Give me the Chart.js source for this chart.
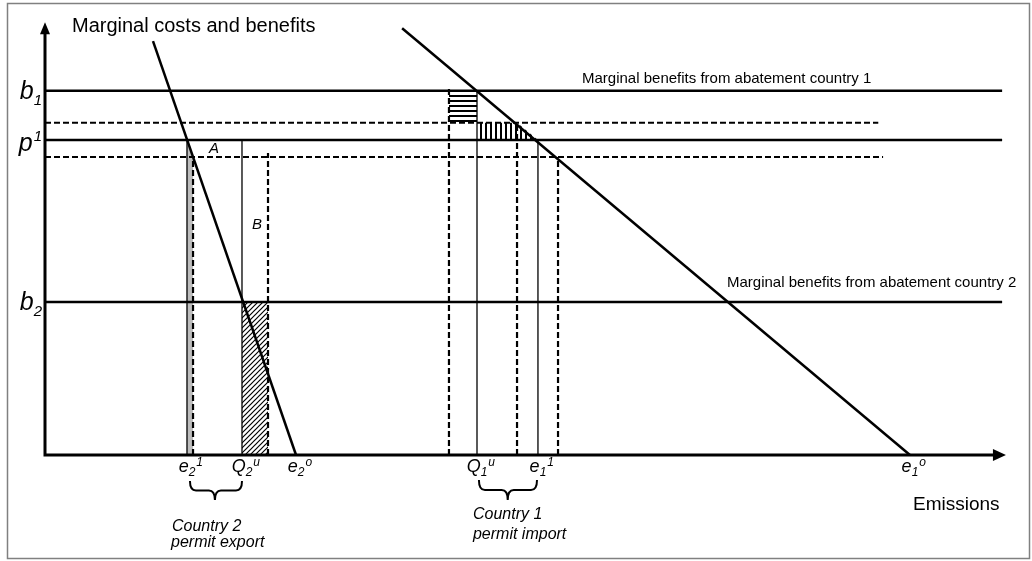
<!DOCTYPE html>
<html>
<head>
<meta charset="utf-8">
<script src="https://cdn.jsdelivr.net/npm/chart.js@4/dist/chart.umd.min.js"></script>
<style>
body { margin: 0; background: #fff; }
canvas { display: block; }
</style>
</head>
<body>
<canvas id="chart" width="1032" height="561"></canvas>
<script>
// price levels on the vertical axis (b1, p1, b2) and the two dashed permit prices
var priceLevels = [84.3, 72.9, 35.4];
var priceLabels = [['b', '1', ''], ['p', '', '1'], ['b', '2', '']];
var dashedPrices = [76.9, 69.0];
var dashedEnds = [86.8, 87.3];
var lineEnd = 99.7;

// marginal abatement cost curves
var mac2 = [{x: 11.25, y: 95.8}, {x: 26.15, y: 0}];
var mac1 = [{x: 37.2, y: 98.8}, {x: 90.1, y: 0}];

// emission marks on the horizontal axis
var emissionLevels = [14.79, 20.52, 26.15, 45.0, 51.35, 90.1];
var emissionLabels = [['e', '2', '1'], ['Q', '2', 'u'], ['e', '2', 'o'], ['Q', '1', 'u'], ['e', '1', '1'], ['e', '1', 'o']];

// drop lines [x, top]
var solidDrops = [[14.79, 72.9], [20.52, 72.9], [45.0, 84.3], [51.35, 72.9]];
var dashedDrops = [[15.42, 69.0], [23.23, 69.9], [42.08, 85.2], [49.17, 76.9], [53.44, 69.0]];

// shaded areas
var grayArea = [{x: 14.79, y: 72.9}, {x: 15.42, y: 69.0}];
var exportArea = [{x: 20.52, y: 35.4}, {x: 23.23, y: 35.4}];
var importBox = [{x: 42.08, y: 84.3}, {x: 45.0, y: 84.3}];
var importStrip = [{x: 45.0, y: 76.9}, {x: 49.17, y: 76.9}, {x: 51.35, y: 72.9}];

var FONT = "'Liberation Sans', Arial, sans-serif";

function pattern(kind) {
	var c = document.createElement('canvas');
	var g = c.getContext('2d');
	if (kind == 'diag') {
		c.width = 5; c.height = 5;
		g.strokeStyle = '#000'; g.lineWidth = 1.2;
		g.beginPath();
		g.moveTo(-1, 6); g.lineTo(6, -1);
		g.moveTo(-1, 1); g.lineTo(1, -1);
		g.moveTo(4, 6); g.lineTo(6, 4);
		g.stroke();
	} else if (kind == 'hor') {
		c.width = 4; c.height = 5;
		g.fillStyle = '#000'; g.fillRect(0, 0, 4, 2);
	} else {
		c.width = 5; c.height = 4;
		g.fillStyle = '#000'; g.fillRect(0, 0, 2, 4);
	}
	return g.createPattern(c, 'repeat');
}

function seg(points, width, dash) {
	return {
		data: points, borderColor: '#000', borderWidth: width, borderDash: dash || [],
		pointRadius: 0, fill: false, tension: 0, order: 0
	};
}
function area(points, fill, bg) {
	return {
		data: points, borderColor: 'rgba(0,0,0,0)', borderWidth: 0, backgroundColor: bg,
		pointRadius: 0, fill: fill, tension: 0, order: 10
	};
}

var datasets = [];
datasets.push(area(grayArea, 'origin', '#bdbdbd'));
datasets.push(area(exportArea, 'origin', pattern('diag')));
datasets.push(area(importBox, {value: dashedPrices[0]}, pattern('hor')));
datasets.push(area(importStrip, {value: priceLevels[1]}, pattern('ver')));
priceLevels.forEach(function (v) {
	datasets.push(seg([{x: 0, y: v}, {x: lineEnd, y: v}], 2.5));
});
dashedPrices.forEach(function (v, i) {
	datasets.push(seg([{x: 0, y: v}, {x: dashedEnds[i], y: v}], 2, [6, 3]));
});
solidDrops.forEach(function (d) {
	datasets.push(seg([{x: d[0], y: 0}, {x: d[0], y: d[1]}], 1.3));
});
dashedDrops.forEach(function (d) {
	datasets.push(seg([{x: d[0], y: 0}, {x: d[0], y: d[1]}], 2.2, [6, 3]));
});
datasets.push(seg(mac2, 2.5));
datasets.push(seg(mac1, 2.5));

function symbol(ctx, parts, x, y, size, small, align, supRaise) {
	ctx.font = 'italic ' + size + 'px ' + FONT;
	var wb = ctx.measureText(parts[0]).width;
	ctx.font = 'italic ' + small + 'px ' + FONT;
	var ws = parts[1] ? ctx.measureText(parts[1]).width : 0;
	var wp = parts[2] ? ctx.measureText(parts[2]).width : 0;
	var left;
	if (align == 'right') left = x - wb - ws - (parts[2] ? wp + 1 : 0);
	else left = x - (wb + ws) / 2;
	ctx.textAlign = 'left';
	ctx.textBaseline = 'alphabetic';
	ctx.font = 'italic ' + size + 'px ' + FONT;
	ctx.fillText(parts[0], left, y);
	ctx.font = 'italic ' + small + 'px ' + FONT;
	if (parts[1]) ctx.fillText(parts[1], left + wb, y + size * 0.25);
	if (parts[2]) ctx.fillText(parts[2], left + wb + ws + 1, y - size * supRaise);
}

function brace(ctx, x1, x2, xm, top, depth) {
	var mid = top + depth * 0.5, bot = top + depth, r = 6;
	ctx.beginPath();
	ctx.moveTo(x1, top);
	ctx.quadraticCurveTo(x1, mid, x1 + r, mid);
	ctx.lineTo(xm - r, mid);
	ctx.quadraticCurveTo(xm, mid, xm, bot);
	ctx.quadraticCurveTo(xm, mid, xm + r, mid);
	ctx.lineTo(x2 - r, mid);
	ctx.quadraticCurveTo(x2, mid, x2, top);
	ctx.stroke();
}

var annot = {
	id: 'annot',
	beforeDraw: function (chart) {
		var ctx = chart.ctx;
		ctx.save();
		ctx.strokeStyle = '#808080';
		ctx.lineWidth = 1.5;
		ctx.strokeRect(7.5, 3.5, 1022, 555);
		ctx.restore();
	},
	afterDatasetsDraw: function (chart) {
		var ctx = chart.ctx, sx = chart.scales.x, sy = chart.scales.y;
		var px = function (v) { return sx.getPixelForValue(v); };
		var py = function (v) { return sy.getPixelForValue(v); };
		ctx.save();
		ctx.fillStyle = '#000';
		ctx.strokeStyle = '#000';

		// axes with arrow heads
		ctx.lineWidth = 3;
		ctx.beginPath();
		ctx.moveTo(px(0), py(0) + 1.5); ctx.lineTo(px(0), py(97.5));
		ctx.moveTo(px(0) - 1.5, py(0)); ctx.lineTo(px(98.8), py(0));
		ctx.stroke();
		ctx.beginPath();
		ctx.moveTo(px(0), py(100.2)); ctx.lineTo(px(0) - 5, py(100.2) + 12); ctx.lineTo(px(0) + 5, py(100.2) + 12);
		ctx.closePath(); ctx.fill();
		ctx.beginPath();
		ctx.moveTo(px(100.1), py(0)); ctx.lineTo(px(100.1) - 13, py(0) - 6); ctx.lineTo(px(100.1) - 13, py(0) + 6);
		ctx.closePath(); ctx.fill();

		// price labels
		var offs = [8, 11, 8];
		priceLevels.forEach(function (v, i) {
			symbol(ctx, priceLabels[i], px(-0.3), py(v) + offs[i], 25, 15, 'right', 0.42);
		});
		// emission labels
		emissionLevels.forEach(function (v, i) {
			symbol(ctx, emissionLabels[i], px(v), py(-3.9), 18, 12, 'center', 0.3);
		});

		ctx.textAlign = 'left';
		ctx.textBaseline = 'alphabetic';
		ctx.font = '20px ' + FONT;
		ctx.fillText('Marginal costs and benefits', px(2.81), py(97.9));
		ctx.font = '15px ' + FONT;
		ctx.fillText('Marginal benefits from abatement country 1', px(55.94), py(86.1));
		ctx.fillText('Marginal benefits from abatement country 2', px(71.04), py(38.9));
		ctx.font = '19px ' + FONT;
		ctx.fillText('Emissions', px(90.42), py(-12.7));

		ctx.font = 'italic 15px ' + FONT;
		ctx.fillText('A', px(17.08), py(69.9));
		ctx.fillText('B', px(21.56), py(52.3));

		ctx.font = 'italic 16px ' + FONT;
		ctx.fillText('Country 2', px(13.23), py(-17.6));
		ctx.fillText('permit export', px(13.13), py(-21.3));
		ctx.fillText('Country 1', px(44.58), py(-14.8));
		ctx.fillText('permit import', px(44.58), py(-19.4));

		ctx.lineWidth = 2;
		brace(ctx, px(15.1), px(20.52), px(17.7), py(-6.0), 19);
		brace(ctx, px(45.2), px(51.25), px(48.2), py(-5.8), 20);
		ctx.restore();
	}
};

new Chart(document.getElementById('chart'), {
	type: 'line',
	data: {datasets: datasets},
	options: {
		responsive: false,
		animation: false,
		devicePixelRatio: 1,
		layout: {padding: 0},
		scales: {
			x: {type: 'linear', display: false, min: -4.6875, max: 102.8125},
			y: {type: 'linear', display: false, min: -24.537, max: 105.324}
		},
		plugins: {legend: {display: false}, tooltip: {enabled: false}}
	},
	plugins: [annot]
});
</script>
</body>
</html>
